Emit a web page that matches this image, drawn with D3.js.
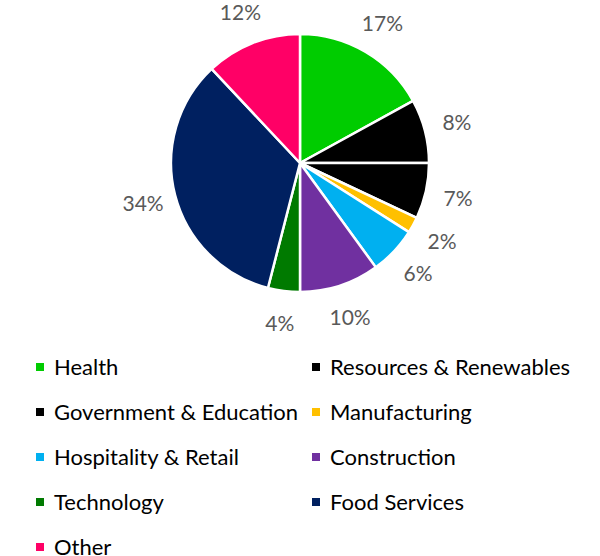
<!DOCTYPE html>
<html>
<head>
<meta charset="utf-8">
<script src="https://cdn.jsdelivr.net/npm/d3@7"></script>
<style>
  body { margin: 0; background: #fff; }
  svg text { font-family: Lato, "Open Sans", sans-serif; }
</style>
</head>
<body>
<div id="chart"></div>
<script>
// data
var categories = ['Health', 'Resources & Renewables', 'Government & Education', 'Manufacturing',
                  'Hospitality & Retail', 'Construction', 'Technology', 'Food Services', 'Other'];
var shares = [17, 8, 7, 2, 6, 10, 4, 34, 12];
var colors = ['#00cc00', '#000000', '#000000', '#ffc000', '#00b0f0', '#7030a0', '#007a00', '#002060', '#ff0066'];

var w = 600, h = 556;
var cx = 300, cy = 163, radius = 129;

var svg = d3.select('#chart').append('svg')
    .attr('width', w)
    .attr('height', h);

var pie = d3.pie().sort(null).value(function(d) { return d; });
var arcs = pie(shares);

var arc = d3.arc().innerRadius(0).outerRadius(radius);
var labelArc = d3.arc().innerRadius(162).outerRadius(162);

var g = svg.append('g').attr('transform', 'translate(' + [cx, cy] + ')');

g.selectAll('path')
    .data(arcs).enter()
    .append('path')
    .attr('d', arc)
    .attr('fill', function(d, i) { return colors[i]; })
    .attr('stroke', '#fff')
    .attr('stroke-width', 2.5)
    .attr('stroke-linejoin', 'round');

//percent labels
g.selectAll('text.pct')
    .data(arcs).enter()
    .append('text')
    .attr('class', 'pct')
    .attr('x', function(d) { return labelArc.centroid(d)[0]; })
    .attr('y', function(d) { return labelArc.centroid(d)[1]; })
    .attr('dy', '0.36em')
    .attr('text-anchor', 'middle')
    .attr('font-size', '21px')
    .attr('fill', '#595959')
    .text(function(d) { return d.data + '%'; });

//legend, two columns
var col = d3.scaleOrdinal().domain([0, 1]).range([36, 312]);
var row = d3.scaleLinear().domain([0, 1]).range([367, 412]);

var item = svg.selectAll('g.legend')
    .data(categories).enter()
    .append('g')
    .attr('class', 'legend')
    .attr('transform', function(d, i) {
        return 'translate(' + [col(i % 2), row(Math.floor(i / 2))] + ')';
    });

item.append('rect')
    .attr('x', 0)
    .attr('y', -4)
    .attr('width', 8)
    .attr('height', 8)
    .attr('fill', function(d, i) { return colors[i]; });

item.append('text')
    .attr('x', 18)
    .attr('y', 0)
    .attr('dy', '0.36em')
    .attr('font-size', '22px')
    .attr('fill', '#000')
    .text(function(d) { return d; });
</script>
</body>
</html>
